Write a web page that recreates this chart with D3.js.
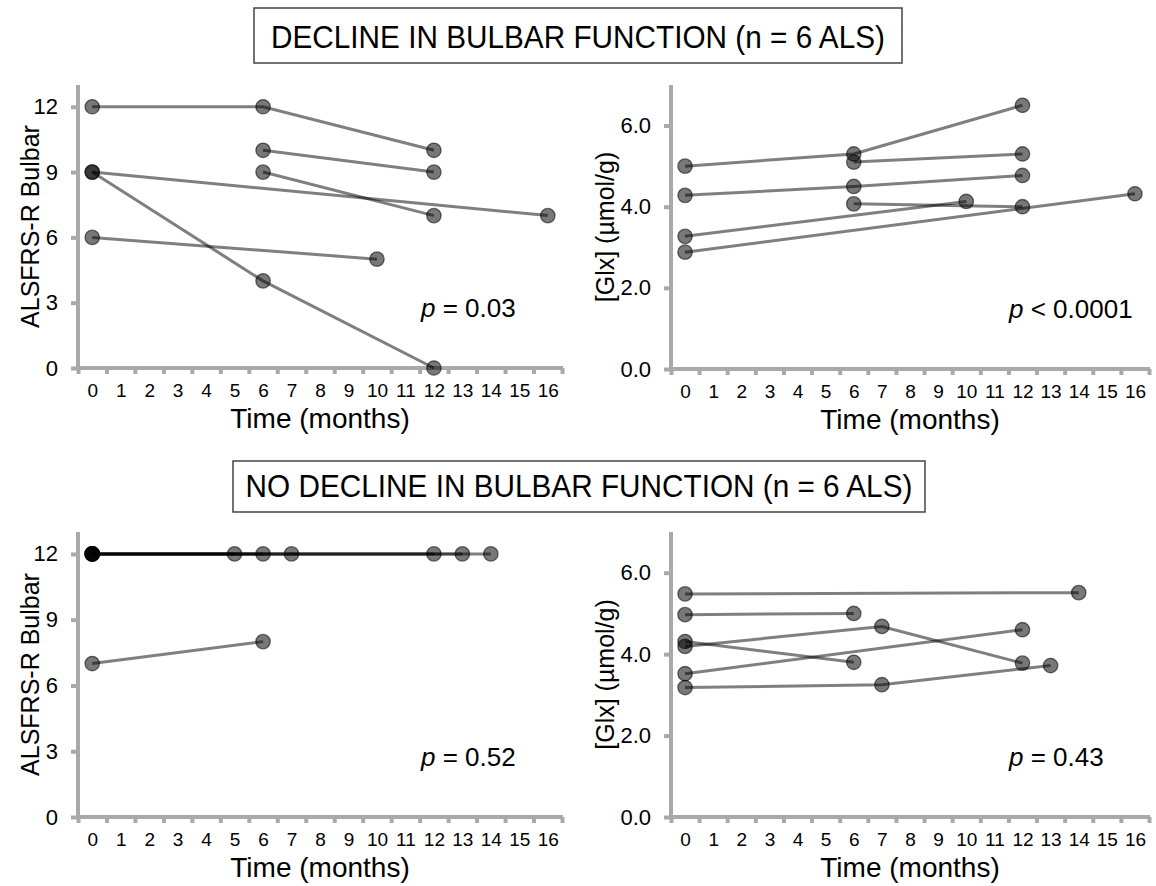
<!DOCTYPE html>
<html>
<head>
<meta charset="utf-8">
<script src="https://cdn.jsdelivr.net/npm/d3@7"></script>
<style>
  html, body { margin: 0; padding: 0; background: #fff; }
  svg { display: block; font-family: "Liberation Sans", Arial, sans-serif; }
  .axis .domain { display: none; }
</style>
</head>
<body>
<svg id="chart" width="1156" height="886"></svg>
<script>
// month categories on the x axis
const months = d3.range(17);
const monthEdges = d3.range(-0.5, 17, 1);
const bulbarTicks = [0, 3, 6, 9, 12];
const glxTicks = [0, 2, 4, 6];

// each patient: [month, value] pairs
const declineBulbar = [
  [[0, 12], [6, 12], [12, 10]],
  [[6, 10], [12, 9]],
  [[6, 9], [12, 7]],
  [[0, 9], [16, 7]],
  [[0, 9], [6, 4], [12, 0]],
  [[0, 6], [10, 5]]
];
const declineGlx = [
  [[0, 5.0], [6, 5.3], [12, 6.5]],
  [[6, 5.1], [12, 5.3]],
  [[6, 4.07], [12, 4.0]],
  [[0, 2.88], [16, 4.32]],
  [[0, 4.28], [6, 4.5], [12, 4.77]],
  [[0, 3.27], [10, 4.13]]
];
const noDeclineBulbar = [
  [[0, 12], [14, 12]],
  [[0, 12], [6, 12]],
  [[0, 7], [6, 8]],
  [[0, 12], [7, 12], [12, 12]],
  [[0, 12], [5, 12]],
  [[0, 12], [13, 12]]
];
const noDeclineGlx = [
  [[0, 5.48], [14, 5.51]],
  [[0, 4.97], [6, 5.0]],
  [[0, 4.31], [6, 3.8]],
  [[0, 4.19], [7, 4.68], [12, 3.78]],
  [[0, 3.52], [12, 4.6]],
  [[0, 3.18], [7, 3.25], [13, 3.72]]
];

const titles = ["DECLINE IN BULBAR FUNCTION (n = 6 ALS)", "NO DECLINE IN BULBAR FUNCTION (n = 6 ALS)"];
const pValues = ["= 0.03", "< 0.0001", "= 0.52", "= 0.43"];

const svg = d3.select("#chart");
const axisColor = "#a9a9a9";

function drawTitle(text, x0, x1, y0, y1) {
  svg.append("rect")
    .attr("x", x0).attr("y", y0)
    .attr("width", x1 - x0).attr("height", y1 - y0)
    .attr("fill", "#fff").attr("stroke", "#444").attr("stroke-width", 1.5);
  const t = svg.append("text")
    .attr("x", (x0 + x1) / 2).attr("y", y1 - 15)
    .attr("text-anchor", "middle")
    .attr("font-size", 30.5)
    .attr("fill", "#000")
    .text(text);
  // the original face is a touch narrower than Liberation Sans
  const w = t.node().getComputedTextLength();
  t.attr("textLength", w * 0.975).attr("lengthAdjust", "spacingAndGlyphs");
}

function drawPanel(o) {
  const x = d3.scaleLinear().domain([-0.5, 16.5]).range([o.left, o.right]);
  const y = d3.scaleLinear().domain([0, o.yMax]).range([o.bottom, o.top]);
  const g = svg.append("g");

  // axis lines
  g.append("line")
    .attr("x1", x(-0.5)).attr("x2", x(-0.5))
    .attr("y1", y(o.yMax)).attr("y2", y(0))
    .attr("stroke", axisColor).attr("stroke-width", 4);
  g.append("line")
    .attr("x1", x(-0.5) - 2).attr("x2", x(16.5) + 1)
    .attr("y1", y(0)).attr("y2", y(0))
    .attr("stroke", axisColor).attr("stroke-width", 4);

  // y axis
  const ya = g.append("g").attr("class", "axis")
    .attr("transform", `translate(${x(-0.5)},0)`)
    .call(d3.axisLeft(y).tickValues(o.yTicks).tickSize(7).tickSizeOuter(0).tickPadding(13).tickFormat(o.yFormat));
  ya.selectAll(".tick line").attr("stroke", axisColor).attr("stroke-width", 4);
  ya.selectAll(".tick text").attr("font-size", 22).attr("fill", "#000").attr("font-family", null);

  // x axis stubs at category edges
  const xs = g.append("g").attr("class", "axis")
    .attr("transform", `translate(0,${y(0)})`)
    .call(d3.axisBottom(x).tickValues(monthEdges).tickSize(6).tickSizeOuter(0).tickFormat(""));
  xs.selectAll(".tick line").attr("stroke", axisColor).attr("stroke-width", 4);

  // x labels at month centres
  const xl = g.append("g").attr("class", "axis")
    .attr("transform", `translate(0,${y(0)})`)
    .call(d3.axisBottom(x).tickValues(months).tickSize(0).tickSizeOuter(0).tickPadding(16));
  xl.selectAll(".tick text").attr("font-size", 19).attr("fill", "#000").attr("font-family", null);

  // axis titles
  g.append("text")
    .attr("x", (o.left + o.right) / 2).attr("y", y(0) + 60)
    .attr("text-anchor", "middle").attr("font-size", 28).attr("fill", "#000")
    .text("Time (months)");
  g.append("text")
    .attr("transform", `translate(${o.left - o.labelGap},${(o.top + o.bottom) / 2}) rotate(-90)`)
    .attr("text-anchor", "middle").attr("font-size", 25).attr("fill", "#000")
    .text(o.yLabel);

  // patient lines then points
  const line = d3.line().x(d => x(d[0])).y(d => y(d[1]));
  g.append("g").selectAll("path")
    .data(o.data).join("path")
    .attr("d", line)
    .attr("fill", "none")
    .attr("stroke", "rgba(0,0,0,0.5)")
    .attr("stroke-width", 3);
  g.append("g").selectAll("circle")
    .data(o.data.flat()).join("circle")
    .attr("cx", d => x(d[0])).attr("cy", d => y(d[1]))
    .attr("r", 7.2)
    .attr("fill", "rgba(0,0,0,0.53)")
    .attr("stroke", "rgba(0,0,0,0.55)")
    .attr("stroke-width", 1.3);

  // p value
  const pt = g.append("text")
    .attr("x", o.left + o.pOffset).attr("y", y(0) - 51)
    .attr("font-size", 26).attr("fill", "#000");
  pt.append("tspan").attr("font-style", "italic").text("p");
  pt.append("tspan").text(" " + o.p);
}

drawTitle(titles[0], 254, 902, 8, 63);
drawTitle(titles[1], 233, 925, 461, 512);

const fmtInt = d3.format("d");
const fmtOne = d3.format(".1f");

drawPanel({ left: 78, right: 562, top: 85, bottom: 368, yMax: 13, yTicks: bulbarTicks, yFormat: fmtInt,
  yLabel: "ALSFRS-R Bulbar", labelGap: 39, data: declineBulbar, p: pValues[0], pOffset: 343 });
drawPanel({ left: 671, right: 1149, top: 85, bottom: 369, yMax: 7, yTicks: glxTicks, yFormat: fmtOne,
  yLabel: "[Glx] (µmol/g)", labelGap: 57, data: declineGlx, p: pValues[1], pOffset: 338 });
drawPanel({ left: 78, right: 562, top: 532, bottom: 817, yMax: 13, yTicks: bulbarTicks, yFormat: fmtInt,
  yLabel: "ALSFRS-R Bulbar", labelGap: 39, data: noDeclineBulbar, p: pValues[2], pOffset: 343 });
drawPanel({ left: 671, right: 1149, top: 532, bottom: 817, yMax: 7, yTicks: glxTicks, yFormat: fmtOne,
  yLabel: "[Glx] (µmol/g)", labelGap: 57, data: noDeclineGlx, p: pValues[3], pOffset: 338 });
</script>
</body>
</html>
